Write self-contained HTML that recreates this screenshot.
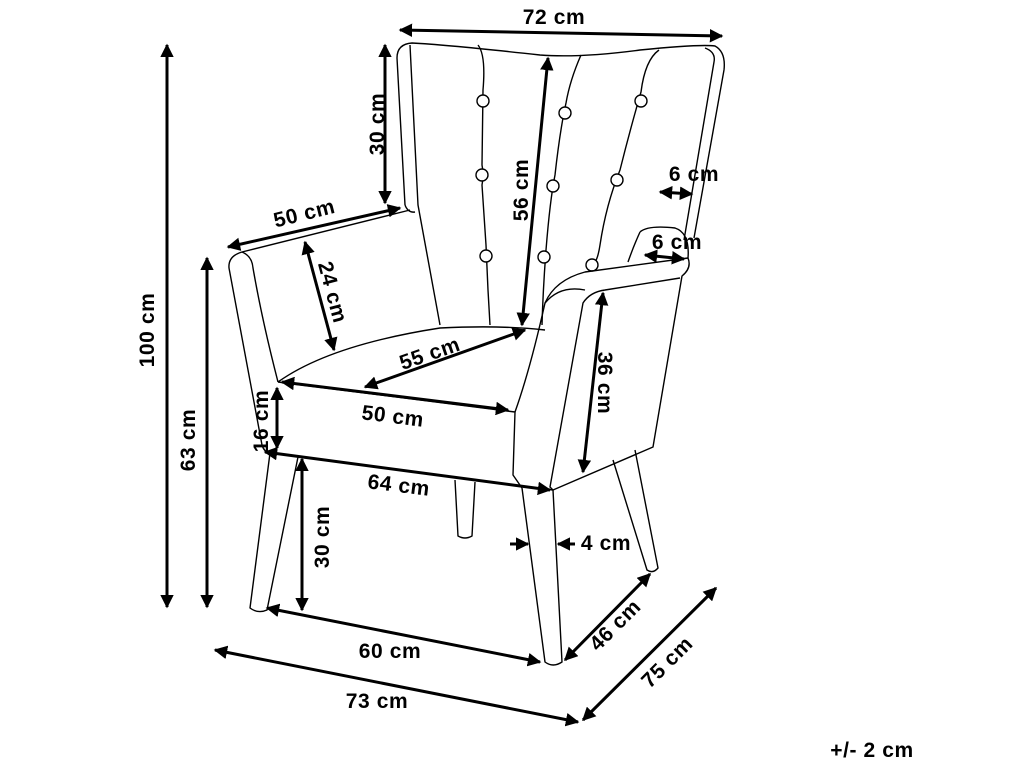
<!DOCTYPE html>
<html><head><meta charset="utf-8"><style>
html,body{margin:0;padding:0;background:#fff}
svg{display:block}
text{font-family:"Liberation Sans",sans-serif;font-weight:bold;font-size:21px;letter-spacing:0.6px;fill:#000}
</style></head><body>
<svg width="1024" height="768" viewBox="0 0 1024 768" xmlns="http://www.w3.org/2000/svg">
<defs>
<marker id="a" viewBox="0 0 10 10" refX="9" refY="5" markerWidth="4.5" markerHeight="4.5" orient="auto-start-reverse"><path d="M0,0 L10,5 L0,10 z" fill="#000"/></marker>
</defs>
<g fill="none" stroke="#000" stroke-width="1.4" stroke-linejoin="round">
<path d="M405,205 L397,58 Q397,44 412,43 Q450,45 540,55 Q580,58 640,50 Q700,44 715,46 Q726,52 724,70 L694,238"/>
<path d="M405,205 Q408,213 415,212 M410,45 L418,205 L440,325"/>
<path d="M705,48 Q716,52 714,62 L684,240"/>
<path d="M478,45 Q486,55 483,90 L482,165 Q484,175 482,185 L486,245 Q487,268 488,290 L490,325"/>
<path d="M581,55 Q570,80 566,103 Q560,130 555,175 Q550,200 546,250 Q543,290 542,325"/>
<path d="M659,50 Q645,60 641,92 Q630,130 620,170 Q606,205 600,245 Q598,258 595,262"/>
<circle cx="483" cy="101" r="6" fill="#fff"/><circle cx="482" cy="175" r="6" fill="#fff"/><circle cx="486" cy="256" r="6" fill="#fff"/>
<circle cx="565" cy="113" r="6" fill="#fff"/><circle cx="553" cy="186" r="6" fill="#fff"/><circle cx="544" cy="257" r="6" fill="#fff"/>
<circle cx="641" cy="101" r="6" fill="#fff"/><circle cx="617" cy="180" r="6" fill="#fff"/><circle cx="592" cy="265" r="6" fill="#fff"/>
<path d="M410,210 L242,252 Q228,256 229,268 L262,445 Q264,452 270,453"/>
<path d="M242,252 Q252,256 253,268 Q262,320 278,382"/>
<path d="M278,382 Q330,345 440,328 Q500,325 545,330"/>
<path d="M278,382 L515,412 L513,475 L522,488"/>
<path d="M270,453 L553,490"/>
<path d="M515,412 Q530,370 545,303 Q555,280 585,272 L688,258 Q692,268 682,276 L653,447 L553,490 L550,487 L583,303 Q590,292 605,290 L680,278"/>
<path d="M640,232 Q648,225 675,228 Q690,233 688,258"/>
<path d="M640,232 Q634,245 628,262"/>
<path d="M545,303 Q560,285 585,290"/>
<path d="M270,453 L250,608 Q258,614 267,610 L298,457"/>
<path d="M522,488 L545,662 Q553,668 562,662 L553,490"/>
<path d="M613,460 L647,570 Q653,574 658,568 L635,450"/>
<path d="M455,480 L458,536 Q465,540 472,536 L475,482"/>
</g>
<g stroke="#000" stroke-width="3" fill="none" marker-start="url(#a)" marker-end="url(#a)">
<line x1="400" y1="30" x2="722" y2="36"/>
<line x1="385" y1="45" x2="385" y2="203"/>
<line x1="167" y1="45" x2="167" y2="607"/>
<line x1="207" y1="258" x2="207" y2="607"/>
<line x1="228" y1="247" x2="400" y2="208"/>
<line x1="305" y1="242" x2="334" y2="350"/>
<line x1="548" y1="58" x2="522" y2="325"/>
<line x1="660" y1="192" x2="692" y2="194"/>
<line x1="645" y1="255" x2="684" y2="259"/>
<line x1="365" y1="387" x2="525" y2="330"/>
<line x1="282" y1="382" x2="508" y2="410"/>
<line x1="277" y1="388" x2="277" y2="448"/>
<line x1="265" y1="452" x2="550" y2="490"/>
<line x1="603" y1="293" x2="583" y2="472"/>
<line x1="302" y1="459" x2="302" y2="610"/>
<line x1="267" y1="608" x2="540" y2="662"/>
<line x1="565" y1="660" x2="650" y2="574"/>
<line x1="215" y1="650" x2="578" y2="722"/>
<line x1="583" y1="720" x2="716" y2="588"/>
</g>
<g stroke="#000" stroke-width="3" marker-end="url(#a)">
<line x1="510" y1="544" x2="528" y2="544"/>
<line x1="575" y1="544" x2="558" y2="544"/>
</g>
<text x="554" y="24" text-anchor="middle">72 cm</text>
<text transform="translate(384,124) rotate(-90)" text-anchor="middle">30 cm</text>
<text transform="translate(154,330) rotate(-90)" text-anchor="middle">100 cm</text>
<text transform="translate(195,440) rotate(-90)" text-anchor="middle">63 cm</text>
<text transform="translate(306,220) rotate(-14)" text-anchor="middle">50 cm</text>
<text transform="translate(326,294) rotate(75)" text-anchor="middle">24 cm</text>
<text transform="translate(528,190) rotate(-90)" text-anchor="middle">56 cm</text>
<text x="694" y="181" text-anchor="middle">6 cm</text>
<text x="677" y="249" text-anchor="middle">6 cm</text>
<text transform="translate(432,360) rotate(-19)" text-anchor="middle">55 cm</text>
<text transform="translate(392,423) rotate(7)" text-anchor="middle">50 cm</text>
<text transform="translate(268,421) rotate(-90)" text-anchor="middle">16 cm</text>
<text transform="translate(398,492) rotate(7)" text-anchor="middle">64 cm</text>
<text transform="translate(598,383) rotate(90)" text-anchor="middle">36 cm</text>
<text transform="translate(329,537) rotate(-90)" text-anchor="middle">30 cm</text>
<text x="606" y="550" text-anchor="middle">4 cm</text>
<text x="390" y="658" text-anchor="middle">60 cm</text>
<text transform="translate(620,630) rotate(-45)" text-anchor="middle">46 cm</text>
<text x="377" y="708" text-anchor="middle">73 cm</text>
<text transform="translate(672,667) rotate(-45)" text-anchor="middle">75 cm</text>
<text x="872" y="757" text-anchor="middle">+/- 2 cm</text>
</svg>
</body></html>
